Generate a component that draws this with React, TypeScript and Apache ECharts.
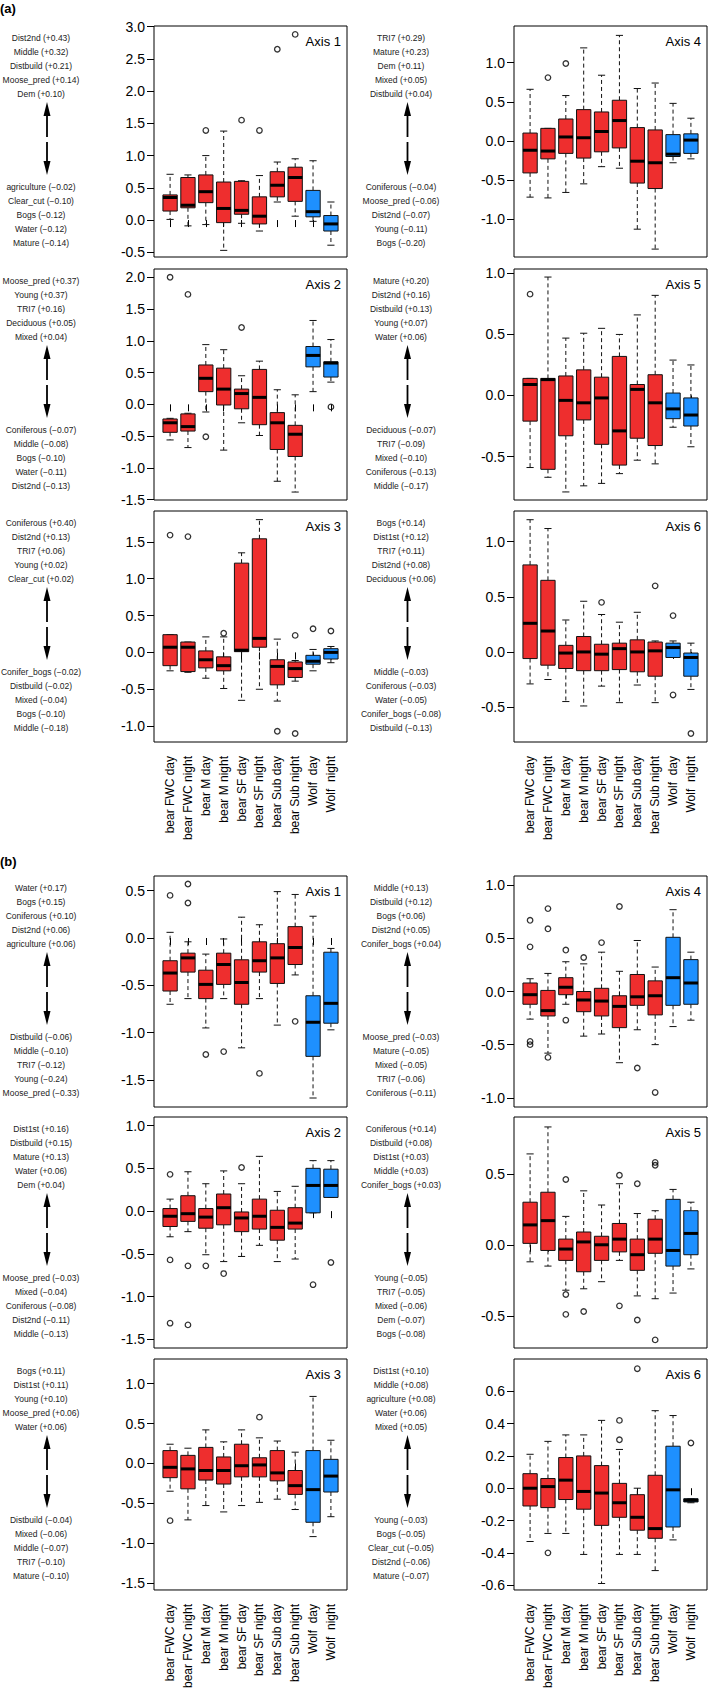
import React, { useEffect, useRef } from "react";
import * as echarts from "echarts";

const FONT = "'Liberation Sans', Arial, Helvetica, sans-serif";

const categories = [
  "bear FWC day", "bear FWC night", "bear M day", "bear M night", "bear SF day",
  "bear SF night", "bear Sub day", "bear Sub night", "Wolf  day", "Wolf  night",
];
const speciesGroup = [0, 0, 0, 0, 0, 0, 0, 0, 1, 1];
const RED = "#EE2E2E";
const BLUE = "#1E90FF";

// [lower whisker, Q1, median, Q3, upper whisker] per category
// ---------- (a) ----------
const a1Stats = [
  [0.01, 0.14, 0.35, 0.39, 0.71], [-0.09, 0.19, 0.23, 0.66, 0.70], [-0.07, 0.27, 0.44, 0.70, 1.00],
  [-0.47, -0.04, 0.18, 0.59, 1.38], [-0.05, 0.09, 0.15, 0.60, 0.61], [-0.17, -0.06, 0.06, 0.36, 0.69],
  [0.28, 0.36, 0.54, 0.75, 0.90], [0.06, 0.29, 0.66, 0.82, 0.95], [-0.02, 0.05, 0.13, 0.46, 0.92],
  [-0.39, -0.17, -0.06, 0.07, 0.28],
];
const a1Out = [[3, 1.39], [5, 1.55], [6, 1.39], [7, 2.65], [8, 2.88]];
const a1Ticks = [-0.5, 0, 0.5, 1, 1.5, 2, 2.5, 3];
const a1Pos = ["Dist2nd (+0.43)", "Middle (+0.32)", "Distbuild (+0.21)", "Moose_pred (+0.14)", "Dem (+0.10)"];
const a1Neg = ["agriculture (−0.02)", "Clear_cut (−0.10)", "Bogs (−0.12)", "Water (−0.12)", "Mature (−0.14)"];

const a4Stats = [
  [-0.72, -0.41, -0.12, 0.10, 0.66], [-0.73, -0.23, -0.13, 0.16, 0.16], [-0.66, -0.16, 0.05, 0.28, 0.58],
  [-0.55, -0.22, 0.04, 0.40, 1.19], [-0.33, -0.14, 0.12, 0.37, 0.84], [-0.35, -0.09, 0.26, 0.52, 1.35],
  [-1.13, -0.54, -0.26, 0.17, 0.67], [-1.385, -0.61, -0.28, 0.14, 0.74], [-0.28, -0.20, -0.17, 0.08, 0.48],
  [-0.23, -0.16, 0.01, 0.09, 0.29],
];
const a4Out = [[2, 0.81], [3, 0.99]];
const a4Ticks = [-1, -0.5, 0, 0.5, 1];
const a4Pos = ["TRI7 (+0.29)", "Mature (+0.23)", "Dem (+0.11)", "Mixed (+0.05)", "Distbuild (+0.04)"];
const a4Neg = ["Coniferous (−0.04)", "Moose_pred (−0.06)", "Dist2nd (−0.07)", "Young (−0.11)", "Bogs (−0.20)"];

const a2Stats = [
  [-0.56, -0.44, -0.29, -0.23, -0.22], [-0.68, -0.42, -0.35, -0.15, -0.14], [-0.12, 0.20, 0.41, 0.62, 0.94],
  [-0.72, -0.01, 0.24, 0.57, 0.86], [-0.29, -0.07, 0.17, 0.24, 0.45], [-0.49, -0.32, 0.11, 0.55, 0.68],
  [-1.21, -0.71, -0.29, -0.13, 0.23], [-1.38, -0.82, -0.47, -0.33, 0.15], [0.20, 0.59, 0.77, 0.91, 1.32],
  [0.35, 0.43, 0.65, 0.67, 1.02],
];
const a2Out = [[1, 2.0], [2, 1.73], [3, -0.51], [5, 1.21], [10, -0.04]];
const a2Ticks = [-1.5, -1, -0.5, 0, 0.5, 1, 1.5, 2];
const a2Pos = ["Moose_pred (+0.37)", "Young (+0.37)", "TRI7 (+0.16)", "Deciduous (+0.05)", "Mixed (+0.04)"];
const a2Neg = ["Coniferous (−0.07)", "Middle (−0.08)", "Bogs (−0.10)", "Water (−0.11)", "Dist2nd (−0.13)"];

const a5Stats = [
  [-0.59, -0.21, 0.09, 0.14, 0.14], [-0.67, -0.605, 0.13, 0.14, 0.97], [-0.79, -0.33, -0.04, 0.16, 0.47],
  [-0.74, -0.20, -0.06, 0.21, 0.51], [-0.72, -0.40, -0.02, 0.15, 0.55], [-0.64, -0.57, -0.29, 0.32, 0.50],
  [-0.53, -0.35, 0.05, 0.09, 0.66], [-0.56, -0.41, -0.06, 0.17, 0.82], [-0.26, -0.19, -0.11, 0.02, 0.29],
  [-0.42, -0.25, -0.16, -0.02, 0.25],
];
const a5Out = [[1, 0.83]];
const a5Ticks = [-0.5, 0, 0.5, 1];
const a5Pos = ["Mature (+0.20)", "Dist2nd (+0.16)", "Distbuild (+0.13)", "Young (+0.07)", "Water (+0.06)"];
const a5Neg = ["Deciduous (−0.07)", "TRI7 (−0.09)", "Mixed (−0.10)", "Coniferous (−0.13)", "Middle (−0.17)"];

const a3Stats = [
  [-0.25, -0.18, 0.07, 0.24, 0.24], [-0.27, -0.26, 0.07, 0.14, 0.14], [-0.35, -0.21, -0.10, 0.02, 0.21],
  [-0.49, -0.25, -0.18, -0.06, 0.21], [-0.65, 0.01, 0.03, 1.21, 1.35], [-0.50, 0.07, 0.19, 1.54, 1.80],
  [-0.66, -0.44, -0.19, -0.10, 0.18], [-0.39, -0.34, -0.22, -0.13, -0.11], [-0.25, -0.16, -0.12, -0.04, 0.04],
  [-0.14, -0.09, 0.00, 0.05, 0.08],
];
const a3Out = [[1, 1.59], [2, 1.57], [4, 0.26], [7, -1.07], [8, 0.23], [8, -1.10], [9, 0.32], [10, 0.29]];
const a3Ticks = [-1, -0.5, 0, 0.5, 1, 1.5];
const a3Pos = ["Coniferous (+0.40)", "Dist2nd (+0.13)", "TRI7 (+0.06)", "Young (+0.02)", "Clear_cut (+0.02)"];
const a3Neg = ["Conifer_bogs (−0.02)", "Distbuild (−0.02)", "Mixed (−0.04)", "Bogs (−0.10)", "Middle (−0.18)"];

const a6Stats = [
  [-0.29, -0.06, 0.26, 0.79, 1.20], [-0.25, -0.12, 0.19, 0.65, 1.12], [-0.45, -0.15, -0.01, 0.06, 0.29],
  [-0.49, -0.17, 0.00, 0.14, 0.46], [-0.31, -0.17, -0.02, 0.07, 0.34], [-0.46, -0.16, 0.03, 0.08, 0.27],
  [-0.30, -0.18, 0.00, 0.11, 0.36], [-0.46, -0.22, 0.01, 0.09, 0.10], [-0.05, -0.05, 0.04, 0.08, 0.10],
  [-0.34, -0.22, -0.05, -0.01, 0.08],
];
const a6Out = [[5, 0.45], [8, 0.60], [9, 0.33], [9, -0.39], [10, -0.74]];
const a6Ticks = [-0.5, 0, 0.5, 1];
const a6Pos = ["Bogs (+0.14)", "Dist1st (+0.12)", "TRI7 (+0.11)", "Dist2nd (+0.08)", "Deciduous (+0.06)"];
const a6Neg = ["Middle (−0.03)", "Coniferous (−0.03)", "Water (−0.05)", "Conifer_bogs (−0.08)", "Distbuild (−0.13)"];

// ---------- (b) ----------
const b1Stats = [
  [-0.70, -0.56, -0.37, -0.24, 0.06], [-0.64, -0.36, -0.21, -0.16, -0.04], [-0.95, -0.64, -0.49, -0.34, -0.17],
  [-0.64, -0.49, -0.28, -0.16, -0.01], [-1.16, -0.70, -0.47, -0.23, 0.22], [-0.64, -0.36, -0.24, -0.04, 0.14],
  [-0.92, -0.48, -0.21, -0.06, 0.49], [-0.39, -0.28, -0.10, 0.12, 0.46], [-1.69, -1.25, -0.89, -0.61, 0.23],
  [-0.97, -0.90, -0.69, -0.15, -0.11],
];
const b1Out = [[1, 0.45], [2, 0.57], [2, 0.37], [3, -1.23], [4, -1.20], [6, -1.43], [8, -0.88]];
const b1Ticks = [-1.5, -1, -0.5, 0, 0.5];
const b1Pos = ["Water (+0.17)", "Bogs (+0.15)", "Coniferous (+0.10)", "Dist2nd (+0.06)", "agriculture (+0.06)"];
const b1Neg = ["Distbuild (−0.06)", "Middle (−0.10)", "TRI7 (−0.12)", "Young (−0.24)", "Moose_pred (−0.33)"];

const b4Stats = [
  [-0.26, -0.12, -0.03, 0.08, 0.12], [-0.58, -0.23, -0.18, 0.01, 0.17], [-0.12, -0.03, 0.04, 0.13, 0.28],
  [-0.42, -0.19, -0.08, 0.00, 0.26], [-0.40, -0.23, -0.09, 0.03, 0.37], [-0.67, -0.34, -0.14, -0.04, 0.19],
  [-0.36, -0.13, -0.05, 0.16, 0.48], [-0.50, -0.22, -0.04, 0.10, 0.23], [-0.33, -0.13, 0.13, 0.51, 0.77],
  [-0.27, -0.12, 0.08, 0.30, 0.37],
];
const b4Out = [[1, 0.67], [1, 0.42], [1, -0.47], [1, -0.50], [2, 0.78], [2, 0.59], [2, -0.62], [3, 0.39], [3, -0.27], [4, 0.32], [5, 0.46], [6, 0.80], [7, -0.72], [8, -0.95]];
const b4Ticks = [-1, -0.5, 0, 0.5, 1];
const b4Pos = ["Middle (+0.13)", "Distbuild (+0.12)", "Bogs (+0.06)", "Dist2nd (+0.05)", "Conifer_bogs (+0.04)"];
const b4Neg = ["Moose_pred (−0.03)", "Mature (−0.05)", "Mixed (−0.05)", "TRI7 (−0.06)", "Coniferous (−0.11)"];

const b2Stats = [
  [-0.30, -0.18, -0.06, 0.03, 0.14], [-0.24, -0.12, -0.03, 0.18, 0.46], [-0.51, -0.20, -0.07, 0.03, 0.32],
  [-0.59, -0.16, 0.04, 0.20, 0.47], [-0.53, -0.24, -0.08, -0.01, 0.32], [-0.40, -0.21, -0.06, 0.14, 0.64],
  [-0.59, -0.34, -0.19, 0.01, 0.23], [-0.56, -0.21, -0.14, 0.04, 0.29], [-0.02, -0.02, 0.30, 0.50, 0.59],
  [0.16, 0.16, 0.30, 0.49, 0.59],
];
const b2Out = [[1, 0.43], [1, -0.57], [1, -1.31], [2, -0.64], [2, -1.33], [3, -0.64], [4, -0.73], [5, 0.51], [9, -0.86], [10, -0.60]];
const b2Ticks = [-1.5, -1, -0.5, 0, 0.5, 1];
const b2Pos = ["Dist1st (+0.16)", "Distbuild (+0.15)", "Mature (+0.13)", "Water (+0.06)", "Dem (+0.04)"];
const b2Neg = ["Moose_pred (−0.03)", "Mixed (−0.04)", "Coniferous (−0.08)", "Dist2nd (−0.11)", "Middle (−0.13)"];

const b5Stats = [
  [-0.12, 0.01, 0.14, 0.30, 0.64], [-0.15, -0.04, 0.17, 0.37, 0.83], [-0.32, -0.11, -0.03, 0.04, 0.20],
  [-0.31, -0.19, 0.02, 0.09, 0.38], [-0.26, -0.11, 0.00, 0.06, 0.28], [-0.11, -0.05, 0.04, 0.15, 0.43],
  [-0.36, -0.18, -0.07, 0.04, 0.22], [-0.38, -0.06, 0.04, 0.18, 0.24], [-0.34, -0.15, -0.04, 0.32, 0.39],
  [-0.17, -0.07, 0.08, 0.24, 0.30],
];
const b5Out = [[3, 0.46], [3, -0.35], [3, -0.49], [4, -0.47], [6, 0.49], [6, -0.43], [7, 0.43], [7, -0.53], [8, 0.56], [8, 0.58], [8, -0.67]];
const b5Ticks = [-0.5, 0, 0.5];
const b5Pos = ["Coniferous (+0.14)", "Distbuild (+0.08)", "Dist1st (+0.03)", "Middle (+0.03)", "Conifer_bogs (+0.03)"];
const b5Neg = ["Young (−0.05)", "TRI7 (−0.05)", "Mixed (−0.06)", "Dem (−0.07)", "Bogs (−0.08)"];

const b3Stats = [
  [-0.35, -0.18, -0.05, 0.16, 0.24], [-0.71, -0.32, -0.07, 0.10, 0.19], [-0.53, -0.21, -0.09, 0.20, 0.42],
  [-0.61, -0.26, -0.09, 0.08, 0.27], [-0.53, -0.17, -0.03, 0.24, 0.42], [-0.49, -0.17, -0.02, 0.07, 0.32],
  [-0.45, -0.22, -0.12, 0.16, 0.28], [-0.58, -0.39, -0.28, -0.09, 0.14], [-0.92, -0.74, -0.33, 0.16, 0.84],
  [-0.67, -0.36, -0.16, 0.05, 0.29],
];
const b3Out = [[1, -0.72], [6, 0.58]];
const b3Ticks = [-1.5, -1, -0.5, 0, 0.5, 1];
const b3Pos = ["Bogs (+0.11)", "Dist1st (+0.11)", "Young (+0.10)", "Moose_pred (+0.06)", "Water (+0.06)"];
const b3Neg = ["Distbuild (−0.04)", "Mixed (−0.06)", "Middle (−0.07)", "TRI7 (−0.10)", "Mature (−0.10)"];

const b6Stats = [
  [-0.33, -0.11, 0.00, 0.09, 0.21], [-0.28, -0.12, 0.01, 0.06, 0.29], [-0.28, -0.07, 0.05, 0.19, 0.33],
  [-0.41, -0.13, -0.02, 0.20, 0.33], [-0.59, -0.23, -0.03, 0.14, 0.42], [-0.41, -0.18, -0.09, 0.03, 0.24],
  [-0.41, -0.26, -0.18, -0.04, 0.00], [-0.51, -0.31, -0.25, 0.08, 0.48], [-0.32, -0.24, -0.01, 0.26, 0.45],
  [-0.09, -0.085, -0.075, -0.065, -0.065],
];
const b6Out = [[2, -0.40], [6, 0.42], [6, 0.30], [7, 0.74], [10, 0.28]];
const b6Ticks = [-0.6, -0.4, -0.2, 0, 0.2, 0.4, 0.6];
const b6Pos = ["Dist1st (+0.10)", "Middle (+0.08)", "agriculture (+0.08)", "Water (+0.06)", "Mixed (+0.05)"];
const b6Neg = ["Young (−0.03)", "Bogs (−0.05)", "Clear_cut (−0.05)", "Dist2nd (−0.06)", "Mature (−0.07)"];

const sectionLabels = ["(a)", "(b)"];

// layout
const COL_LEFT = [154, 514];
const PLOT_W = 193;
const PLOT_H = 231;
const ROW_TOP = [26, 269, 511, 876, 1117, 1359];
const TEXT_X = [41, 401];
const ARROW_X = [47, 407.5];

const panels = [
  { title: "Axis 1", row: 0, col: 0, stats: a1Stats, out: a1Out, min: -0.573, max: 3.01, ticks: a1Ticks, pos: a1Pos, neg: a1Neg },
  { title: "Axis 4", row: 0, col: 1, stats: a4Stats, out: a4Out, min: -1.486, max: 1.47, ticks: a4Ticks, pos: a4Pos, neg: a4Neg },
  { title: "Axis 2", row: 1, col: 0, stats: a2Stats, out: a2Out, min: -1.505, max: 2.13, ticks: a2Ticks, pos: a2Pos, neg: a2Neg },
  { title: "Axis 5", row: 1, col: 1, stats: a5Stats, out: a5Out, min: -0.856, max: 1.036, ticks: a5Ticks, pos: a5Pos, neg: a5Neg },
  { title: "Axis 3", row: 2, col: 0, stats: a3Stats, out: a3Out, min: -1.215, max: 1.917, ticks: a3Ticks, pos: a3Pos, neg: a3Neg },
  { title: "Axis 6", row: 2, col: 1, stats: a6Stats, out: a6Out, min: -0.817, max: 1.279, ticks: a6Ticks, pos: a6Pos, neg: a6Neg },
  { title: "Axis 1", row: 3, col: 0, stats: b1Stats, out: b1Out, min: -1.785, max: 0.655, ticks: b1Ticks, pos: b1Pos, neg: b1Neg },
  { title: "Axis 4", row: 3, col: 1, stats: b4Stats, out: b4Out, min: -1.087, max: 1.087, ticks: b4Ticks, pos: b4Pos, neg: b4Neg },
  { title: "Axis 2", row: 4, col: 0, stats: b2Stats, out: b2Out, min: -1.6, max: 1.1, ticks: b2Ticks, pos: b2Pos, neg: b2Neg },
  { title: "Axis 5", row: 4, col: 1, stats: b5Stats, out: b5Out, min: -0.727, max: 0.9, ticks: b5Ticks, pos: b5Pos, neg: b5Neg },
  { title: "Axis 3", row: 5, col: 0, stats: b3Stats, out: b3Out, min: -1.59, max: 1.31, ticks: b3Ticks, pos: b3Pos, neg: b3Neg },
  { title: "Axis 6", row: 5, col: 1, stats: b6Stats, out: b6Out, min: -0.63, max: 0.80, ticks: b6Ticks, pos: b6Pos, neg: b6Neg },
];

const catPositions = categories.map((_, i) => i + 1);
const INK = "#111";

function renderBox(params: any, api: any) {
  const x = api.value(0);
  const lo = api.value(1), q1 = api.value(2), med = api.value(3), q3 = api.value(4), hi = api.value(5);
  const g = api.value(6);
  const pMed = api.coord([x, med]);
  const cx = pMed[0];
  const yLo = api.coord([x, lo])[1];
  const yQ1 = api.coord([x, q1])[1];
  const yQ3 = api.coord([x, q3])[1];
  const yHi = api.coord([x, hi])[1];
  const bw = api.size([0.8, 0])[0];
  const half = bw / 2;
  const sh = bw / 4;
  const dash = { stroke: INK, lineWidth: 1, lineDash: [4, 3] };
  const solid = { stroke: INK, lineWidth: 1 };
  const children: any[] = [
    { type: "line", shape: { x1: cx, y1: yQ3, x2: cx, y2: yHi }, style: dash },
    { type: "line", shape: { x1: cx, y1: yQ1, x2: cx, y2: yLo }, style: dash },
    { type: "line", shape: { x1: cx - sh, y1: yHi, x2: cx + sh, y2: yHi }, style: solid },
    { type: "line", shape: { x1: cx - sh, y1: yLo, x2: cx + sh, y2: yLo }, style: solid },
    {
      type: "rect",
      shape: { x: cx - half, y: yQ3, width: bw, height: Math.max(yQ1 - yQ3, 0.5) },
      style: { fill: g ? BLUE : RED, stroke: INK, lineWidth: 1 },
    },
    { type: "line", shape: { x1: cx - half, y1: pMed[1], x2: cx + half, y2: pMed[1] }, style: { stroke: "#000", lineWidth: 3 } },
  ];
  return { type: "group", children };
}

function fmtTick(v: number) {
  return (Math.round(v * 10) / 10).toFixed(1);
}

function buildOption() {
  const grid: any[] = [];
  const xAxis: any[] = [];
  const yAxis: any[] = [];
  const series: any[] = [];
  const graphic: any[] = [];

  panels.forEach((p, i) => {
    const left = COL_LEFT[p.col];
    const top = ROW_TOP[p.row];
    const bottomRow = p.row === 2 || p.row === 5;
    grid.push({
      left, top, width: PLOT_W, height: PLOT_H, show: true,
      borderColor: "#000", borderWidth: 1, backgroundColor: "transparent", containLabel: false,
    });
    xAxis.push({
      type: "value", gridIndex: i, min: 0.1, max: 10.9,
      axisLine: { show: false }, splitLine: { show: false },
      axisTick: { show: true, length: 7, customValues: catPositions, lineStyle: { color: "#000", width: 1 } },
      axisLabel: {
        show: bottomRow, customValues: catPositions, rotate: 90, margin: 14,
        fontSize: 12, color: "#000", fontFamily: FONT,
        formatter: (v: number) => categories[Math.round(v) - 1] ?? "",
      },
    });
    yAxis.push({
      type: "value", gridIndex: i, min: p.min, max: p.max,
      axisLine: { show: false }, splitLine: { show: false },
      axisTick: { show: true, length: 7, customValues: p.ticks, lineStyle: { color: "#000", width: 1 } },
      axisLabel: {
        show: true, customValues: p.ticks, margin: 9, fontSize: 14, color: "#000", fontFamily: FONT,
        formatter: (v: number) => fmtTick(v),
      },
    });
    series.push({
      type: "custom", xAxisIndex: i, yAxisIndex: i, clip: false, silent: true,
      data: p.stats.map((s, j) => [j + 1, s[0], s[1], s[2], s[3], s[4], speciesGroup[j]]),
      encode: { x: 0, y: [1, 2, 3, 4, 5] },
      renderItem: renderBox,
      z: 2,
    });
    series.push({
      type: "scatter", xAxisIndex: i, yAxisIndex: i, silent: true,
      symbol: "circle", symbolSize: 5.5,
      itemStyle: { color: "rgba(0,0,0,0)", borderColor: "#000", borderWidth: 1.3 },
      data: p.out,
      z: 3,
    });

    // panel title
    graphic.push({
      type: "text", x: left + PLOT_W - 6, y: top + 15, silent: true,
      style: { text: p.title, fontSize: 13, fontFamily: FONT, fill: "#000", textAlign: "right", textVerticalAlign: "middle" },
    });
    // loadings
    const tx = TEXT_X[p.col];
    p.pos.forEach((t, k) => {
      graphic.push({
        type: "text", x: tx, y: top + 11.5 + 14 * k, silent: true,
        style: { text: t, fontSize: 8.5, fontFamily: FONT, fill: "#222", textAlign: "center", textVerticalAlign: "middle" },
      });
    });
    p.neg.forEach((t, k) => {
      graphic.push({
        type: "text", x: tx, y: top + 160.5 + 14 * k, silent: true,
        style: { text: t, fontSize: 8.5, fontFamily: FONT, fill: "#222", textAlign: "center", textVerticalAlign: "middle" },
      });
    });
    // arrows
    const ax = ARROW_X[p.col];
    graphic.push({
      type: "polygon", silent: true,
      shape: { points: [[ax, top + 76], [ax - 3.5, top + 90], [ax + 3.5, top + 90]] },
      style: { fill: "#000" },
    });
    graphic.push({
      type: "line", silent: true,
      shape: { x1: ax, y1: top + 89, x2: ax, y2: top + 111 },
      style: { stroke: "#000", lineWidth: 1.8 },
    });
    graphic.push({
      type: "line", silent: true,
      shape: { x1: ax, y1: top + 116, x2: ax, y2: top + 136 },
      style: { stroke: "#000", lineWidth: 1.8 },
    });
    graphic.push({
      type: "polygon", silent: true,
      shape: { points: [[ax, top + 149], [ax - 3.5, top + 135], [ax + 3.5, top + 135]] },
      style: { fill: "#000" },
    });
  });

  graphic.push({
    type: "text", x: 0, y: 8, silent: true,
    style: { text: sectionLabels[0], fontSize: 13, fontWeight: "bold", fontFamily: FONT, fill: "#000", textAlign: "left", textVerticalAlign: "middle" },
  });
  graphic.push({
    type: "text", x: 0, y: 861, silent: true,
    style: { text: sectionLabels[1], fontSize: 13, fontWeight: "bold", fontFamily: FONT, fill: "#000", textAlign: "left", textVerticalAlign: "middle" },
  });

  return {
    animation: false,
    backgroundColor: "#fff",
    grid, xAxis, yAxis, series, graphic,
  };
}

export default function App() {
  const ref = useRef<HTMLDivElement>(null);
  useEffect(() => {
    if (!ref.current) return;
    const chart = echarts.init(ref.current, undefined, { renderer: "svg" });
    chart.setOption(buildOption() as any);
    return () => chart.dispose();
  }, []);
  return (
    <div
      ref={ref}
      style={{ position: "absolute", left: 0, top: 0, width: 709, height: 1691 }}
    />
  );
}
